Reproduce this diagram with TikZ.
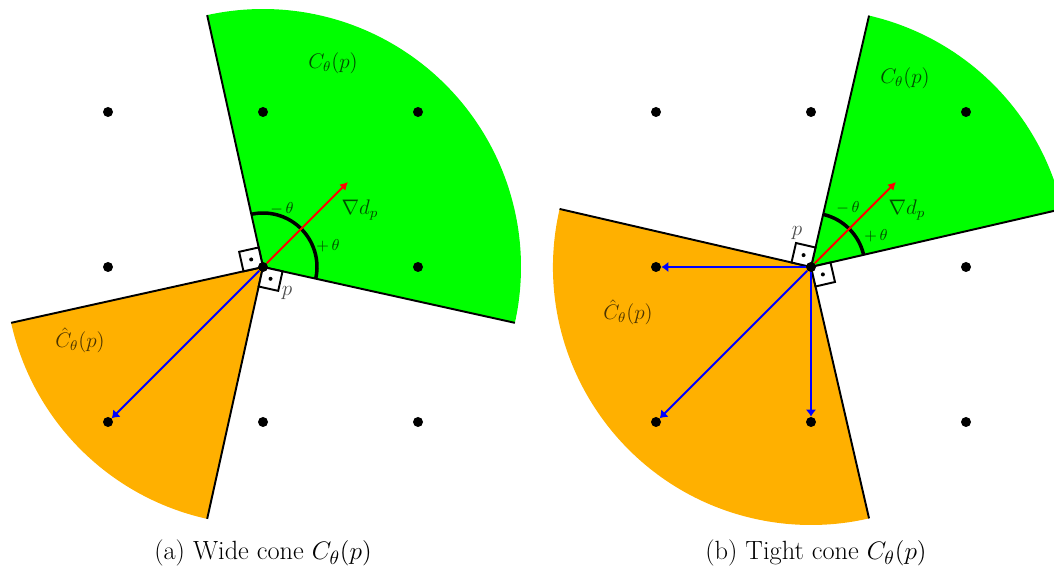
\documentclass[tikz,border=0pt]{standalone}
\usepackage{amsmath}
\usepackage{xcolor}
\usepackage{tikz}
\usetikzlibrary{arrows.meta, calc}

\definecolor{conegreen}{RGB}{0,255,0}
\definecolor{coneorange}{RGB}{255,176,0}

\begin{document}
\begin{tikzpicture}[
    x=0.02cm,
    y=0.02cm,
    dot/.style={
        circle,
        fill=black,
        inner sep=0pt,
        minimum size=0.2cm
    },
    edge/.style={
        line width=1.1pt
    },
    rightmark/.style={
        draw,
        fill=white,
        line width=1.1pt
    },
    anglearc/.style={
        line width=2pt
    },
    vecarrow/.style={
        -{Latex[length=4pt, width=6pt]},
        draw=blue,
        line width=1.1pt
    },
    gradarrow/.style={
        -{Latex[length=4.5pt, width=5pt]},
        draw=red,
        line width=1.1pt
    },
    lbl/.style={
        text=black,
        text opacity=0.7,
        font=\fontsize{11.5}{14}\selectfont
    },
    smalllbl/.style={
        text=black,
        text opacity=0.7,
        font=\fontsize{9.5}{12}\selectfont
    },
    caption/.style={
        font=\fontsize{15}{18}\selectfont
    }
]

\useasboundingbox (0,0) rectangle (1054,577);
\clip (0,0) rectangle (1054,577);

% Cone apexes
\coordinate (pa) at (263,310);
\coordinate (pb) at (811,310);

% Cones
\fill[conegreen] (pa) -- ++(-12.5:258) arc[start angle=-12.5, end angle=102.5, radius=258] -- cycle;
\fill[coneorange] (pa) -- ++(192.5:258) arc[start angle=192.5, end angle=257.5, radius=258] -- cycle;
\fill[conegreen] (pb) -- ++(13:258) arc[start angle=13, end angle=77, radius=258] -- cycle;
\fill[coneorange] (pb) -- ++(167:258) arc[start angle=167, end angle=283, radius=258] -- cycle;

% Cone edges
\draw[edge] (pa) -- ++(102.5:258) (pa) -- ++(-12.5:258) (pa) -- ++(192.5:258) (pa) -- ++(257.5:258);
\draw[edge] (pb) -- ++(77:258) (pb) -- ++(13:258) (pb) -- ++(167:258) (pb) -- ++(283:258);

% Right angle marks
\draw[rightmark] (pa) -- ++(102.5:20) -- ++(192.5:20) -- ++(282.5:20) -- cycle;
\fill ($(pa)+(147.5:14)$) circle[radius=2];
\draw[rightmark] (pa) -- ++(-12.5:20) -- ++(257.5:20) -- ++(167.5:20) -- cycle;
\fill ($(pa)+(-57.5:14)$) circle[radius=2];
\draw[rightmark] (pb) -- ++(77:20) -- ++(167:20) -- ++(257:20) -- cycle;
\fill ($(pb)+(122:14)$) circle[radius=2];
\draw[rightmark] (pb) -- ++(13:20) -- ++(283:20) -- ++(193:20) -- cycle;
\fill ($(pb)+(-32:14)$) circle[radius=2];

% Angle arcs
\draw[anglearc] (pa) ++(-12.5:54) arc[start angle=-12.5, end angle=102.5, radius=54];
\draw[anglearc] (pb) ++(13:54) arc[start angle=13, end angle=77, radius=54];

% Grid (a)
\node[dot] (a00) at (108,155) {};
\node[dot] (a10) at (263,155) {};
\node[dot] (a20) at (418,155) {};
\node[dot] (a01) at (108,310) {};
\node[dot] (a11) at (pa) {};
\node[dot] (a21) at (418,310) {};
\node[dot] (a02) at (108,465) {};
\node[dot] (a12) at (263,465) {};
\node[dot] (a22) at (418,465) {};

% Grid (b)
\node[dot] (b00) at (656,155) {};
\node[dot] (b10) at (811,155) {};
\node[dot] (b20) at (966,155) {};
\node[dot] (b01) at (656,310) {};
\node[dot] (b11) at (pb) {};
\node[dot] (b21) at (966,310) {};
\node[dot] (b02) at (656,465) {};
\node[dot] (b12) at (811,465) {};
\node[dot] (b22) at (966,465) {};

% Gradient tips
\coordinate (ga) at (348,395);
\coordinate (gb) at (896,395);

% Arrows
\draw[gradarrow] (a11) -- (ga);
\draw[gradarrow] (b11) -- (gb);
\draw[vecarrow] (a11) -- (a00);
\draw[vecarrow] (b11) -- (b01);
\draw[vecarrow] (b11) -- (b00);
\draw[vecarrow] (b11) -- (b10);

% Labels (a)
\node[lbl] (cona) at (333,514) {$C_\theta(p)$};
\node[lbl] (hata) at (80,237) {$\hat{C}_\theta(p)$};
\node[lbl] (grada) at (360,367) {$\nabla d_p$};
\node[lbl] (pointa) at (287,284) {$p$};
\node[smalllbl] (minusa) at (282,368) {$-\,\theta$};
\node[smalllbl] (plusa) at (328,331) {$+\,\theta$};

% Labels (b)
\node[lbl] (conb) at (905,499) {$C_\theta(p)$};
\node[lbl] (hatb) at (628,265) {$\hat{C}_\theta(p)$};
\node[lbl] (gradb) at (907,367) {$\nabla d_p$};
\node[lbl] (pointb) at (797,344) {$p$};
\node[smalllbl] (minusb) at (848,369) {$-\,\theta$};
\node[smalllbl] (plusb) at (876,341) {$+\,\theta$};

% Captions
\node[caption] (capa) at (263,24) {(a) Wide cone $C_\theta(p)$};
\node[caption] (capb) at (816,24) {(b) Tight cone $C_\theta(p)$};

\end{tikzpicture}
\end{document}
